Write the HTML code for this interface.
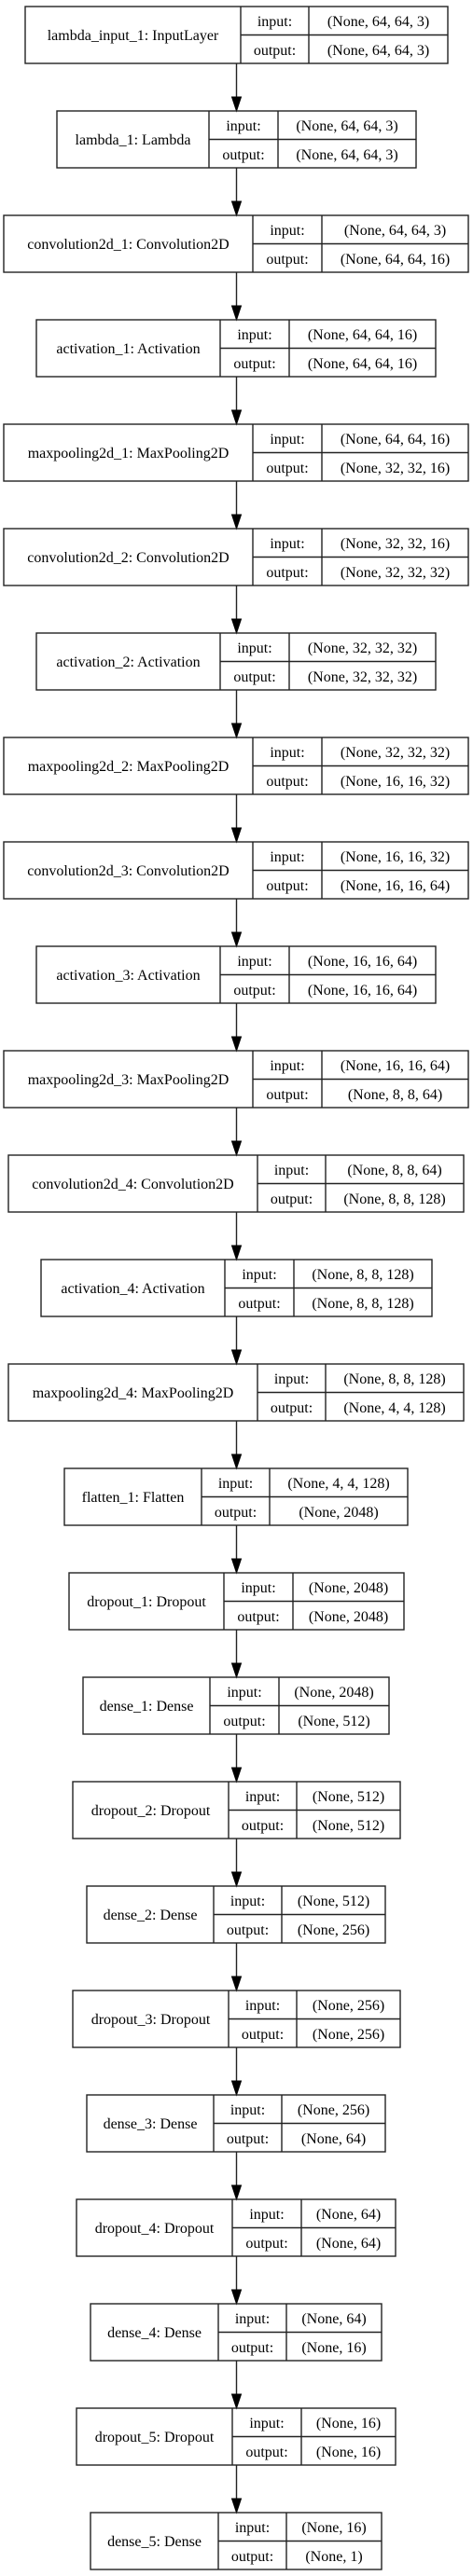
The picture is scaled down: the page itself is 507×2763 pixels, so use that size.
<!DOCTYPE html>
<html><head><meta charset="utf-8"><style>
html,body{margin:0;padding:0;background:#fff;width:507px;height:2763px;overflow:hidden}
svg{display:block}
text{font-family:"Liberation Serif","Times New Roman",serif;font-size:16px;fill:#000;text-anchor:middle}
rect,line{stroke:#222;stroke-width:1.4;fill:none}
</style></head><body>
<svg width="507" height="2763" viewBox="0 0 507 2763" xmlns="http://www.w3.org/2000/svg">
<defs>
<g id="arr"><line x1="253.5" y1="61" x2="253.5" y2="98"/><polygon points="248.5,97 258.5,97 253.5,112" fill="#000" stroke="#000" stroke-width="1"/></g>
</defs>

<g transform="translate(0,7)"><rect x="27" y="0" width="453" height="61"/><line x1="258" y1="0" x2="258" y2="61"/><line x1="331" y1="0" x2="331" y2="61"/><line x1="258" y1="30.5" x2="480" y2="30.5"/>
<text x="142.5" y="36">lambda_input_1: InputLayer</text><text x="294.5" y="21">input:</text><text x="294.5" y="52">output:</text><text x="405.5" y="21">(None, 64, 64, 3)</text><text x="405.5" y="52">(None, 64, 64, 3)</text><use href="#arr"/></g>

<g transform="translate(0,119)"><rect x="61" y="0" width="385" height="61"/><line x1="224" y1="0" x2="224" y2="61"/><line x1="298" y1="0" x2="298" y2="61"/><line x1="224" y1="30.5" x2="446" y2="30.5"/>
<text x="142.5" y="36">lambda_1: Lambda</text><text x="261" y="21">input:</text><text x="261" y="52">output:</text><text x="372" y="21">(None, 64, 64, 3)</text><text x="372" y="52">(None, 64, 64, 3)</text><use href="#arr"/></g>

<g transform="translate(0,231)"><rect x="4" y="0" width="498" height="61"/><line x1="271" y1="0" x2="271" y2="61"/><line x1="345" y1="0" x2="345" y2="61"/><line x1="271" y1="30.5" x2="502" y2="30.5"/>
<text x="137.5" y="36">convolution2d_1: Convolution2D</text><text x="308" y="21">input:</text><text x="308" y="52">output:</text><text x="423.5" y="21">(None, 64, 64, 3)</text><text x="423.5" y="52">(None, 64, 64, 16)</text><use href="#arr"/></g>

<g transform="translate(0,343)"><rect x="39" y="0" width="428" height="61"/><line x1="236" y1="0" x2="236" y2="61"/><line x1="310" y1="0" x2="310" y2="61"/><line x1="236" y1="30.5" x2="467" y2="30.5"/>
<text x="137.5" y="36">activation_1: Activation</text><text x="273" y="21">input:</text><text x="273" y="52">output:</text><text x="388.5" y="21">(None, 64, 64, 16)</text><text x="388.5" y="52">(None, 64, 64, 16)</text><use href="#arr"/></g>

<g transform="translate(0,455)"><rect x="4" y="0" width="498" height="61"/><line x1="271" y1="0" x2="271" y2="61"/><line x1="345" y1="0" x2="345" y2="61"/><line x1="271" y1="30.5" x2="502" y2="30.5"/>
<text x="137.5" y="36">maxpooling2d_1: MaxPooling2D</text><text x="308" y="21">input:</text><text x="308" y="52">output:</text><text x="423.5" y="21">(None, 64, 64, 16)</text><text x="423.5" y="52">(None, 32, 32, 16)</text><use href="#arr"/></g>

<g transform="translate(0,567)"><rect x="4" y="0" width="498" height="61"/><line x1="271" y1="0" x2="271" y2="61"/><line x1="345" y1="0" x2="345" y2="61"/><line x1="271" y1="30.5" x2="502" y2="30.5"/>
<text x="137.5" y="36">convolution2d_2: Convolution2D</text><text x="308" y="21">input:</text><text x="308" y="52">output:</text><text x="423.5" y="21">(None, 32, 32, 16)</text><text x="423.5" y="52">(None, 32, 32, 32)</text><use href="#arr"/></g>

<g transform="translate(0,679)"><rect x="39" y="0" width="428" height="61"/><line x1="236" y1="0" x2="236" y2="61"/><line x1="310" y1="0" x2="310" y2="61"/><line x1="236" y1="30.5" x2="467" y2="30.5"/>
<text x="137.5" y="36">activation_2: Activation</text><text x="273" y="21">input:</text><text x="273" y="52">output:</text><text x="388.5" y="21">(None, 32, 32, 32)</text><text x="388.5" y="52">(None, 32, 32, 32)</text><use href="#arr"/></g>

<g transform="translate(0,791)"><rect x="4" y="0" width="498" height="61"/><line x1="271" y1="0" x2="271" y2="61"/><line x1="345" y1="0" x2="345" y2="61"/><line x1="271" y1="30.5" x2="502" y2="30.5"/>
<text x="137.5" y="36">maxpooling2d_2: MaxPooling2D</text><text x="308" y="21">input:</text><text x="308" y="52">output:</text><text x="423.5" y="21">(None, 32, 32, 32)</text><text x="423.5" y="52">(None, 16, 16, 32)</text><use href="#arr"/></g>

<g transform="translate(0,903)"><rect x="4" y="0" width="498" height="61"/><line x1="271" y1="0" x2="271" y2="61"/><line x1="345" y1="0" x2="345" y2="61"/><line x1="271" y1="30.5" x2="502" y2="30.5"/>
<text x="137.5" y="36">convolution2d_3: Convolution2D</text><text x="308" y="21">input:</text><text x="308" y="52">output:</text><text x="423.5" y="21">(None, 16, 16, 32)</text><text x="423.5" y="52">(None, 16, 16, 64)</text><use href="#arr"/></g>

<g transform="translate(0,1015)"><rect x="39" y="0" width="428" height="61"/><line x1="236" y1="0" x2="236" y2="61"/><line x1="310" y1="0" x2="310" y2="61"/><line x1="236" y1="30.5" x2="467" y2="30.5"/>
<text x="137.5" y="36">activation_3: Activation</text><text x="273" y="21">input:</text><text x="273" y="52">output:</text><text x="388.5" y="21">(None, 16, 16, 64)</text><text x="388.5" y="52">(None, 16, 16, 64)</text><use href="#arr"/></g>

<g transform="translate(0,1127)"><rect x="4" y="0" width="498" height="61"/><line x1="271" y1="0" x2="271" y2="61"/><line x1="345" y1="0" x2="345" y2="61"/><line x1="271" y1="30.5" x2="502" y2="30.5"/>
<text x="137.5" y="36">maxpooling2d_3: MaxPooling2D</text><text x="308" y="21">input:</text><text x="308" y="52">output:</text><text x="423.5" y="21">(None, 16, 16, 64)</text><text x="423.5" y="52">(None, 8, 8, 64)</text><use href="#arr"/></g>

<g transform="translate(0,1239)"><rect x="9" y="0" width="488" height="61"/><line x1="276" y1="0" x2="276" y2="61"/><line x1="349" y1="0" x2="349" y2="61"/><line x1="276" y1="30.5" x2="497" y2="30.5"/>
<text x="142.5" y="36">convolution2d_4: Convolution2D</text><text x="312.5" y="21">input:</text><text x="312.5" y="52">output:</text><text x="423" y="21">(None, 8, 8, 64)</text><text x="423" y="52">(None, 8, 8, 128)</text><use href="#arr"/></g>

<g transform="translate(0,1351)"><rect x="44" y="0" width="419" height="61"/><line x1="241" y1="0" x2="241" y2="61"/><line x1="315" y1="0" x2="315" y2="61"/><line x1="241" y1="30.5" x2="463" y2="30.5"/>
<text x="142.5" y="36">activation_4: Activation</text><text x="278" y="21">input:</text><text x="278" y="52">output:</text><text x="389" y="21">(None, 8, 8, 128)</text><text x="389" y="52">(None, 8, 8, 128)</text><use href="#arr"/></g>

<g transform="translate(0,1463)"><rect x="9" y="0" width="488" height="61"/><line x1="276" y1="0" x2="276" y2="61"/><line x1="349" y1="0" x2="349" y2="61"/><line x1="276" y1="30.5" x2="497" y2="30.5"/>
<text x="142.5" y="36">maxpooling2d_4: MaxPooling2D</text><text x="312.5" y="21">input:</text><text x="312.5" y="52">output:</text><text x="423" y="21">(None, 8, 8, 128)</text><text x="423" y="52">(None, 4, 4, 128)</text><use href="#arr"/></g>

<g transform="translate(0,1575)"><rect x="69" y="0" width="368" height="61"/><line x1="216" y1="0" x2="216" y2="61"/><line x1="289" y1="0" x2="289" y2="61"/><line x1="216" y1="30.5" x2="437" y2="30.5"/>
<text x="142.5" y="36">flatten_1: Flatten</text><text x="252.5" y="21">input:</text><text x="252.5" y="52">output:</text><text x="363" y="21">(None, 4, 4, 128)</text><text x="363" y="52">(None, 2048)</text><use href="#arr"/></g>

<g transform="translate(0,1687)"><rect x="74" y="0" width="359" height="61"/><line x1="240" y1="0" x2="240" y2="61"/><line x1="314" y1="0" x2="314" y2="61"/><line x1="240" y1="30.5" x2="433" y2="30.5"/>
<text x="157" y="36">dropout_1: Dropout</text><text x="277" y="21">input:</text><text x="277" y="52">output:</text><text x="373.5" y="21">(None, 2048)</text><text x="373.5" y="52">(None, 2048)</text><use href="#arr"/></g>

<g transform="translate(0,1799)"><rect x="89" y="0" width="328" height="61"/><line x1="225" y1="0" x2="225" y2="61"/><line x1="299" y1="0" x2="299" y2="61"/><line x1="225" y1="30.5" x2="417" y2="30.5"/>
<text x="157" y="36">dense_1: Dense</text><text x="262" y="21">input:</text><text x="262" y="52">output:</text><text x="358" y="21">(None, 2048)</text><text x="358" y="52">(None, 512)</text><use href="#arr"/></g>

<g transform="translate(0,1911)"><rect x="78" y="0" width="351" height="61"/><line x1="245" y1="0" x2="245" y2="61"/><line x1="318" y1="0" x2="318" y2="61"/><line x1="245" y1="30.5" x2="429" y2="30.5"/>
<text x="161.5" y="36">dropout_2: Dropout</text><text x="281.5" y="21">input:</text><text x="281.5" y="52">output:</text><text x="373.5" y="21">(None, 512)</text><text x="373.5" y="52">(None, 512)</text><use href="#arr"/></g>

<g transform="translate(0,2023)"><rect x="93" y="0" width="320" height="61"/><line x1="229" y1="0" x2="229" y2="61"/><line x1="302" y1="0" x2="302" y2="61"/><line x1="229" y1="30.5" x2="413" y2="30.5"/>
<text x="161" y="36">dense_2: Dense</text><text x="265.5" y="21">input:</text><text x="265.5" y="52">output:</text><text x="357.5" y="21">(None, 512)</text><text x="357.5" y="52">(None, 256)</text><use href="#arr"/></g>

<g transform="translate(0,2135)"><rect x="78" y="0" width="351" height="61"/><line x1="245" y1="0" x2="245" y2="61"/><line x1="318" y1="0" x2="318" y2="61"/><line x1="245" y1="30.5" x2="429" y2="30.5"/>
<text x="161.5" y="36">dropout_3: Dropout</text><text x="281.5" y="21">input:</text><text x="281.5" y="52">output:</text><text x="373.5" y="21">(None, 256)</text><text x="373.5" y="52">(None, 256)</text><use href="#arr"/></g>

<g transform="translate(0,2247)"><rect x="93" y="0" width="320" height="61"/><line x1="229" y1="0" x2="229" y2="61"/><line x1="302" y1="0" x2="302" y2="61"/><line x1="229" y1="30.5" x2="413" y2="30.5"/>
<text x="161" y="36">dense_3: Dense</text><text x="265.5" y="21">input:</text><text x="265.5" y="52">output:</text><text x="357.5" y="21">(None, 256)</text><text x="357.5" y="52">(None, 64)</text><use href="#arr"/></g>

<g transform="translate(0,2359)"><rect x="82" y="0" width="342" height="61"/><line x1="249" y1="0" x2="249" y2="61"/><line x1="323" y1="0" x2="323" y2="61"/><line x1="249" y1="30.5" x2="424" y2="30.5"/>
<text x="165.5" y="36">dropout_4: Dropout</text><text x="286" y="21">input:</text><text x="286" y="52">output:</text><text x="373.5" y="21">(None, 64)</text><text x="373.5" y="52">(None, 64)</text><use href="#arr"/></g>

<g transform="translate(0,2471)"><rect x="97" y="0" width="312" height="61"/><line x1="234" y1="0" x2="234" y2="61"/><line x1="307" y1="0" x2="307" y2="61"/><line x1="234" y1="30.5" x2="409" y2="30.5"/>
<text x="165.5" y="36">dense_4: Dense</text><text x="270.5" y="21">input:</text><text x="270.5" y="52">output:</text><text x="358" y="21">(None, 64)</text><text x="358" y="52">(None, 16)</text><use href="#arr"/></g>

<g transform="translate(0,2583)"><rect x="82" y="0" width="342" height="61"/><line x1="249" y1="0" x2="249" y2="61"/><line x1="323" y1="0" x2="323" y2="61"/><line x1="249" y1="30.5" x2="424" y2="30.5"/>
<text x="165.5" y="36">dropout_5: Dropout</text><text x="286" y="21">input:</text><text x="286" y="52">output:</text><text x="373.5" y="21">(None, 16)</text><text x="373.5" y="52">(None, 16)</text><use href="#arr"/></g>

<g transform="translate(0,2695)"><rect x="97" y="0" width="312" height="61"/><line x1="234" y1="0" x2="234" y2="61"/><line x1="307" y1="0" x2="307" y2="61"/><line x1="234" y1="30.5" x2="409" y2="30.5"/>
<text x="165.5" y="36">dense_5: Dense</text><text x="270.5" y="21">input:</text><text x="270.5" y="52">output:</text><text x="358" y="21">(None, 16)</text><text x="358" y="52">(None, 1)</text></g>
</svg>
</body></html>
